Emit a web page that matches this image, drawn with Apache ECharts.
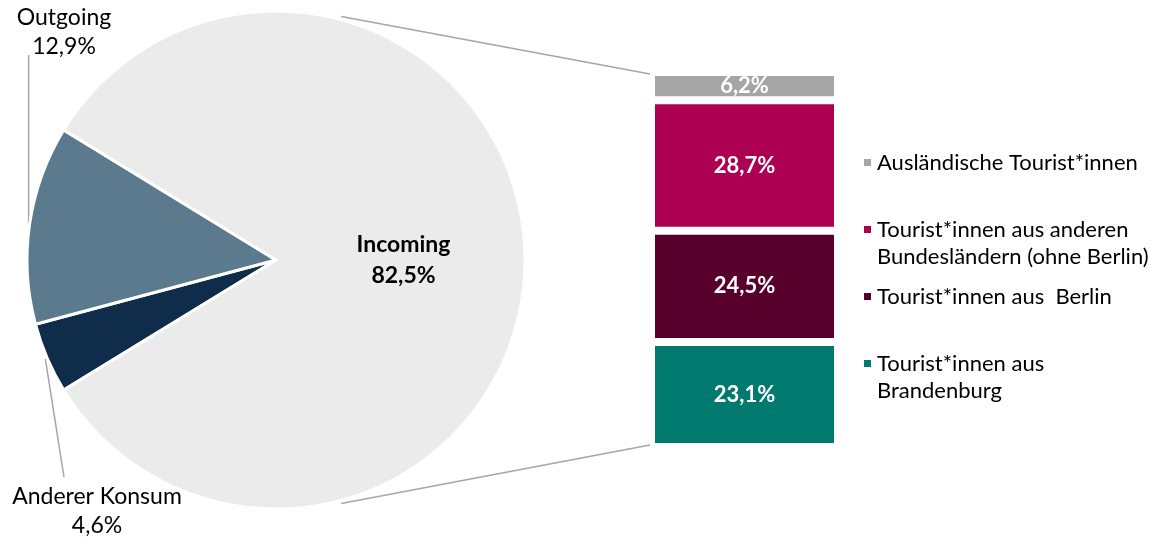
<!DOCTYPE html>
<html>
<head>
<meta charset="utf-8">
<title>Konsum</title>
<script src="https://cdn.jsdelivr.net/npm/echarts@6/dist/echarts.min.js"></script>
<style>
    html, body { margin: 0; padding: 0; background: #fff; }
    #chart { width: 1151px; height: 541px; }
</style>
</head>
<body>
<div id="chart"></div>
<script>
    // pie: clockwise order, Incoming centred on the right
    var pieNames = ['Anderer Konsum', 'Outgoing', 'Incoming'];
    var pieValues = [4.6, 12.9, 82.5];
    var pieColors = ['#0f2d4a', '#5b7a8e', '#ebebeb'];

    // stacked bar: bottom to top
    var barNames = ['Tourist*innen aus\nBrandenburg', 'Tourist*innen aus  Berlin',
        'Tourist*innen aus anderen\nBundesländern (ohne Berlin)', 'Ausländische Tourist*innen'];
    var barValues = [23.1, 24.5, 28.7, 6.2];
    var barColors = ['#007a6e', '#56002b', '#ae0052', '#a5a5a5'];

    var font = 'Lato, "Open Sans", sans-serif';
    var cx = 276, cy = 260, r = 249;
    var gridLeft = 651, gridTop = 72, gridWidth = 187, gridHeight = 375;
    var lineColor = '#a6a6a6';

    function pct(v) {
        return v.toFixed(1).replace('.', ',') + '%';
    }

    var pieTotal = pieValues.reduce(function(a, b) { return a + b; }, 0);
    var barTotal = barValues.reduce(function(a, b) { return a + b; }, 0);
    var startAngle = 180 + (pieValues[0] + pieValues[1]) / 2 / pieTotal * 360;

    function midAngle(i) {
        var cum = 0;
        for (var k = 0; k < i; k++) cum += pieValues[k];
        return startAngle - (cum + pieValues[i] / 2) / pieTotal * 360;
    }

    function piePoint(deg, rr) {
        var a = deg * Math.PI / 180;
        return [cx + rr * Math.cos(a), cy - rr * Math.sin(a)];
    }

    var pieData = pieNames.map(function(n, i) {
        var item = { name: n, value: pieValues[i], itemStyle: { color: pieColors[i] } };
        if (n === 'Incoming') {
            item.label = { position: 'inside', fontWeight: 'bold', fontSize: 23, lineHeight: 31 };
        }
        return item;
    });

    var barSeries = barNames.map(function(n, i) {
        return {
            type: 'bar',
            name: n,
            stack: 'incoming',
            barWidth: '100%',
            data: [barValues[i]],
            itemStyle: { color: barColors[i], borderColor: '#fff', borderWidth: 4 },
            label: {
                show: true,
                position: 'inside',
                color: '#fff',
                fontWeight: 'bold',
                fontSize: 22,
                fontFamily: font,
                formatter: function(p) { return pct(p.value); }
            }
        };
    });

    var chart = echarts.init(document.getElementById('chart'));
    chart.setOption({
        animation: false,
        textStyle: { fontFamily: font },
        legend: {
            orient: 'vertical',
            left: 862,
            top: 149,
            padding: 0,
            itemGap: 13,
            itemWidth: 9,
            itemHeight: 9,
            icon: 'rect',
            data: barNames.slice().reverse(),
            // an empty first line keeps the icon level with the first text line
            formatter: function(name) {
                return name.indexOf('\n') >= 0 ? '\n' + name : name;
            },
            textStyle: { fontSize: 22, lineHeight: 27, color: '#000', fontFamily: font }
        },
        grid: { left: gridLeft, top: gridTop, width: gridWidth, height: gridHeight },
        xAxis: { type: 'category', data: ['Incoming'], show: false },
        yAxis: { type: 'value', min: 0, max: barTotal, show: false },
        series: [{
            type: 'pie',
            center: [cx, cy],
            radius: r,
            startAngle: startAngle,
            clockwise: true,
            avoidLabelOverlap: false,
            itemStyle: { borderColor: '#fff', borderWidth: 3 },
            label: {
                show: true,
                position: 'outside',
                fontSize: 23,
                lineHeight: 29,
                color: '#000',
                fontFamily: font,
                align: 'center',
                formatter: function(p) { return p.name + '\n' + pct(p.value); }
            },
            labelLine: { show: false },
            labelLayout: function(p) {
                if (p.dataIndex === 1) return { x: 64, y: 32, align: 'center', verticalAlign: 'middle' };
                if (p.dataIndex === 0) return { x: 97, y: 511, align: 'center', verticalAlign: 'middle' };
            },
            emphasis: { disabled: true },
            data: pieData
        }].concat(barSeries)
    });

    // connector and label lines, from pie geometry and bar scale
    var yTop = chart.convertToPixel({ gridIndex: 0 }, [0, barTotal])[1];
    var yBottom = chart.convertToPixel({ gridIndex: 0 }, [0, 0])[1];
    var outA = piePoint(midAngle(1), r + 1);
    var andA = piePoint(midAngle(0), r + 2);
    var lines = [
        [piePoint(75, r + 3), [gridLeft - 1, yTop + 2]],
        [piePoint(-75, r + 3), [gridLeft - 1, yBottom - 2]],
        [outA, [outA[0], 55]],
        [andA, [64, 477]]
    ];
    chart.setOption({
        graphic: lines.map(function(l) {
            return {
                type: 'polyline',
                shape: { points: l },
                style: { stroke: lineColor, lineWidth: 1.5, fill: null },
                silent: true
            };
        })
    });
</script>
</body>
</html>
